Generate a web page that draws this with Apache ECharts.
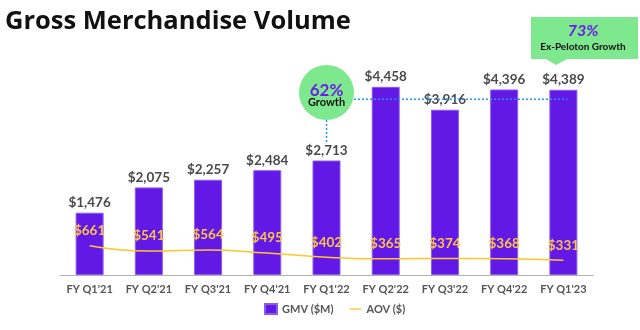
<!DOCTYPE html>
<html>
<head>
<meta charset="utf-8">
<script src="https://cdn.jsdelivr.net/npm/echarts@6/dist/echarts.min.js"></script>
<style>html,body{margin:0;padding:0;background:#fff}#c{width:640px;height:330px}</style>
</head>
<body>
<div id="c"></div>
<script>
const categories = ["FY Q1'21","FY Q2'21","FY Q3'21","FY Q4'21","FY Q1'22","FY Q2'22","FY Q3'22","FY Q4'22","FY Q1'23"];
const gmv = [1476, 2075, 2257, 2484, 2713, 4458, 3916, 4396, 4389];
const aov = [661, 541, 564, 495, 402, 365, 374, 368, 331];
const growthNote = {pct: '62%', text: 'Growth'};
const exNote = {pct: '73%', text: 'Ex-Peloton Growth'};

const FONT = 'Lato';
const chart = echarts.init(document.getElementById('c'), null, {renderer: 'canvas'});
const fmt = v => '$' + v.toLocaleString('en-US');

chart.setOption({
  animation: false,
  title: {
    text: 'Gross Merchandise Volume', left: 0, top: 4,
    textStyle: {fontFamily: 'Open Sans', fontWeight: 'bold', fontSize: 25.5, color: '#111'}
  },
  grid: {left: 60, right: 47, top: 64, bottom: 55},
  legend: {
    bottom: 10, left: 259,
    itemWidth: 12, itemHeight: 10, itemGap: 16,
    textStyle: {fontFamily: FONT, fontWeight: 'bold', fontSize: 11, color: '#555'},
    data: [
      {name: 'GMV ($M)', icon: 'rect'},
      {name: 'AOV ($)', icon: 'path://M0,4.5h14v1.5h-14z', itemStyle: {color: '#FFC629'}}
    ]
  },
  xAxis: {
    type: 'category', data: categories,
    axisLine: {lineStyle: {color: '#b0b0b0', width: 1}},
    axisTick: {show: false},
    axisLabel: {interval: 0, fontFamily: FONT, fontWeight: 'bold', fontSize: 11, color: '#555', margin: 9}
  },
  yAxis: [
    {type: 'value', min: 0, max: 5000, show: false, splitLine: {show: false}},
    {type: 'value', min: 0, max: 4760, show: false, splitLine: {show: false}}
  ],
  series: [
    {
      name: 'GMV ($M)', type: 'bar', data: gmv, barWidth: 28,
      itemStyle: {color: '#6319E6', borderColor: '#8b5cf0', borderWidth: 1},
      label: {show: true, position: 'top', distance: 3, formatter: p => fmt(p.value),
        fontFamily: FONT, fontWeight: 'bold', fontSize: 13.5, color: '#4a4a4a'}
    },
    {
      name: 'AOV ($)', type: 'line', yAxisIndex: 1, data: aov, smooth: true,
      symbol: 'circle', symbolSize: 0, showSymbol: true, z: 5,
      lineStyle: {color: '#FFC629', width: 1.5},
      itemStyle: {color: '#FFC629'},
      label: {show: true, position: 'top', distance: 8, formatter: p => fmt(p.value),
        fontFamily: FONT, fontWeight: 'bold', fontSize: 13.5, color: '#FCC34A'}
    }
  ]
});

// annotations anchored to the grid
const px = (i, v) => chart.convertToPixel({xAxisIndex: 0, yAxisIndex: 0}, [i, v]);
const c4 = px(4, 0), c8 = px(8, 0);
const cx = c4[0], cy = 92.5, r = 27.5;
const hy = 99.3;
const lastX = c8[0];
const dotted = {stroke: '#2196F3', lineWidth: 1.5, lineDash: [2, 2]};
chart.setOption({
  graphic: [
    {type: 'line', shape: {x1: cx + r, y1: hy, x2: lastX + 4, y2: hy}, style: dotted, z: 10},
    {type: 'line', shape: {x1: cx, y1: cy + r, x2: cx, y2: 142}, style: dotted, z: 10},
    {type: 'circle', shape: {cx: cx, cy: cy, r: r}, style: {fill: '#7EE88F'}, z: 11},
    {type: 'text', x: cx, y: 91, style: {text: growthNote.pct, fill: '#6a1fe6', font: 'bold 17px ' + FONT, align: 'center', verticalAlign: 'middle'}, z: 12},
    {type: 'text', x: cx, y: 102.5, style: {text: growthNote.text, fill: '#111', font: 'bold 11px ' + FONT, align: 'center', verticalAlign: 'middle'}, z: 12},
    {type: 'polygon', shape: {points: [[531, 17], [638, 17], [638, 59], [567, 59], [556, 65], [546, 59], [531, 59]]}, style: {fill: '#7EE88F'}, z: 11},
    {type: 'text', x: 583, y: 31, style: {text: exNote.pct, fill: '#6a1fe6', font: 'italic bold 16px ' + FONT, align: 'center', verticalAlign: 'middle'}, z: 12},
    {type: 'text', x: 583, y: 47, style: {text: exNote.text, fill: '#111', font: 'bold 10px ' + FONT, align: 'center', verticalAlign: 'middle'}, z: 12}
  ]
});
</script>
</body>
</html>
